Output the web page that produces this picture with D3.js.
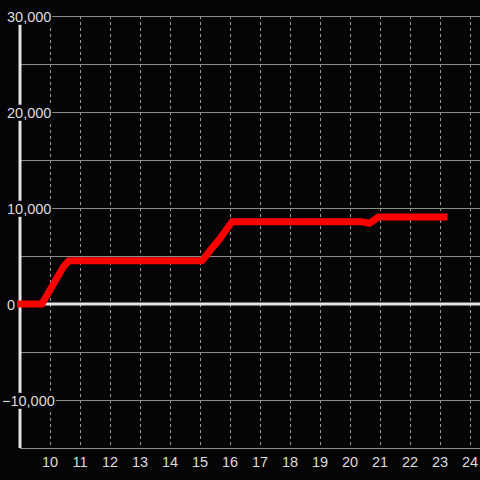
<!DOCTYPE html>
<html><head><meta charset="utf-8">
<script src="https://cdn.jsdelivr.net/npm/d3@7"></script>
<style>html,body{margin:0;padding:0;background:#050407;}svg{display:block;}</style>
</head><body>
<svg id="c" width="480" height="480"></svg>
<script>
const hours  = [8.9, 9.73, 10.45, 10.63, 15.07, 15.43, 15.6, 16.07, 20.4, 20.65, 20.95, 23.25];
const values = [0, 0, 3900, 4500, 4500, 5940, 6560, 8570, 8570, 8420, 9050, 9050];
const yTicks = [-10000, 0, 10000, 20000, 30000];
const yGrid  = [-15000, -10000, -5000, 0, 5000, 10000, 15000, 20000, 25000, 30000];
const xTicks = [10, 11, 12, 13, 14, 15, 16, 17, 18, 19, 20, 21, 22, 23, 24];

const svg = d3.select("#c");
const W = 480, H = 480;
const x = d3.scaleLinear().domain([9, 24 + 1/3]).range([20, 480]);
const y = d3.scaleLinear().domain([-15000, 30000]).range([448, 16]);
const FONT = "'Liberation Sans', Arial, sans-serif";
svg.append("rect").attr("width", W).attr("height", H).attr("fill", "#050407");

// vertical dashed grid
svg.append("g").selectAll("line").data(xTicks).join("line")
  .attr("x1", d => Math.round(x(d)) + 0.5).attr("x2", d => Math.round(x(d)) + 0.5)
  .attr("y1", y(30000)).attr("y2", y(-15000))
  .attr("stroke", "#9a9a9a").attr("stroke-width", 1).attr("stroke-dasharray", "3,3");

// horizontal grid
svg.append("g").selectAll("line").data(yGrid.filter(d => d !== 0)).join("line")
  .attr("x1", x(9)).attr("x2", 480)
  .attr("y1", d => Math.round(y(d)) + 0.5).attr("y2", d => Math.round(y(d)) + 0.5)
  .attr("stroke", "#8c8e8a").attr("stroke-width", 1);

// y axis line
svg.append("line").attr("x1", x(9)).attr("x2", x(9)).attr("y1", y(30000)).attr("y2", y(-15000))
  .attr("stroke", "#e4e4e4").attr("stroke-width", 3);
// zero line
svg.append("line").attr("x1", x(9) - 2).attr("x2", 480).attr("y1", y(0)).attr("y2", y(0))
  .attr("stroke", "#e4e4e4").attr("stroke-width", 3);

// y labels with background
const fmt = d3.format(",");
const yl = svg.append("g").selectAll("g").data(yTicks).join("g");
yl.append("text").attr("x", d => d < 0 ? 2 : 7).attr("y", d => y(d)).attr("dy", "0.4em")
  .attr("text-anchor", "start").attr("fill", "#dcdcdc")
  .style("font-family", FONT).style("font-size", "14.5px")
  .text(d => fmt(d));
yl.each(function() {
  const t = d3.select(this).select("text");
  const b = t.node().getBBox();
  d3.select(this).insert("rect", "text").attr("x", b.x - 1).attr("y", b.y)
    .attr("width", b.width + 2).attr("height", b.height).attr("fill", "#050407");
});

// data line
const line = d3.line().x(d => x(d[0])).y(d => y(d[1]));
svg.append("path").datum(hours.map((h, i) => [h, values[i]]))
  .attr("d", line).attr("fill", "none").attr("stroke", "#ff0000")
  .attr("stroke-width", 7).attr("stroke-linejoin", "miter");

// x labels
svg.append("g").selectAll("text").data(xTicks).join("text")
  .attr("x", d => x(d)).attr("y", 467).attr("text-anchor", "middle")
  .attr("fill", "#dcdcdc")
  .style("font-family", FONT).style("font-size", "14.5px")
  .text(d => d);
</script>
</body></html>
